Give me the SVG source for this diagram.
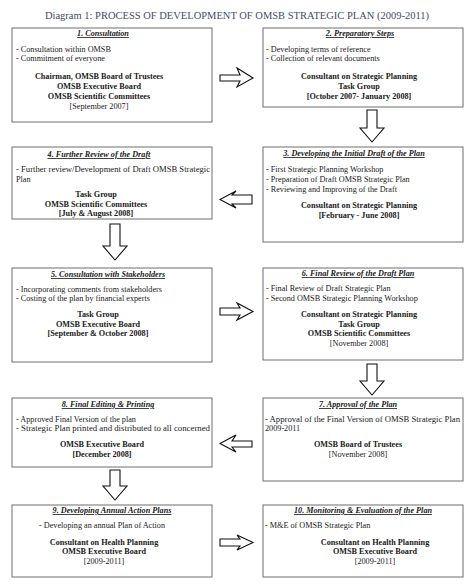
<svg xmlns="http://www.w3.org/2000/svg" width="474" height="587" viewBox="0 0 474 587">
<style>
text{font-family:"Liberation Serif","Times New Roman",serif;font-size:8.2px;fill:#1a1a1a}
.title{font-size:10.5px;fill:#3f4d6c}
.h{font-weight:bold;font-style:italic;text-decoration:underline;text-anchor:middle}
.b{font-weight:bold;text-anchor:middle}
.c{text-anchor:middle}
.box{fill:#fff;stroke:#6e6e6e;stroke-width:1}
.arr{fill:#fff;stroke:#111;stroke-width:1.1;stroke-linejoin:miter}
</style>
<rect width="474" height="587" fill="#fff"/>
<text class="title" x="237" y="19" text-anchor="middle">Diagram 1: PROCESS OF DEVELOPMENT OF OMSB STRATEGIC PLAN (2009-2011)</text>

<g id="connectors">
<polygon class="arr" points="220,75 240,75 237,68 253,78 237,87 240,81 220,81"/>
<polygon class="arr" points="367,110 377,110 377,128 384,128 372,142 360,128 367,128"/>
<polygon class="arr" points="252,195 232,195 236,191 220,199.5 236,208 232,204 252,204"/>
<polygon class="arr" points="110,224 120,224 120,246 127,246 115,260 103,246 110,246"/>
<polygon class="arr" points="220,308 240,308 237,303 253,311.5 237,320 240,315 220,315"/>
<polygon class="arr" points="367,364 377,364 377,381 384,381 372,395 360,381 367,381"/>
<polygon class="arr" points="252,441 232,441 236,435 220,443.5 236,452 232,447 252,447"/>
<polygon class="arr" points="110,470 120,470 120,486 127,486 115,500 103,486 110,486"/>
<polygon class="arr" points="220,539 240,539 237,535 253,542.5 237,550 240,546 220,546"/>
</g>

<g id="node1">
<rect class="box" x="12" y="28" width="200" height="94"/>
<text class="h" x="103" y="36">1. Consultation</text>
<text x="16" y="51.5">- Consultation within OMSB</text>
<text x="16" y="61">- Commitment of everyone</text>
<text class="b" x="99" y="79">Chairman, OMSB Board of Trustees</text>
<text class="b" x="99" y="89">OMSB Executive Board</text>
<text class="b" x="99" y="99">OMSB Scientific Committees</text>
<text class="c" x="99" y="109">[September 2007]</text>
</g>

<g id="node2">
<rect class="box" x="263" y="28" width="200" height="79"/>
<text class="h" x="360" y="36">2. Preparatory Steps</text>
<text x="266" y="51.5">- Developing terms of reference</text>
<text x="266" y="61">- Collection of relevant documents</text>
<text class="b" x="359" y="79">Consultant on Strategic Planning</text>
<text class="b" x="359" y="89">Task Group</text>
<text class="b" x="359" y="99">[October 2007- January 2008]</text>
</g>

<g id="node3">
<rect class="box" x="263" y="147" width="200" height="95"/>
<text class="h" x="354" y="156">3. Developing the Initial Draft of the Plan</text>
<text x="266" y="172">- First Strategic Planning Workshop</text>
<text x="266" y="182">- Preparation of Draft OMSB Strategic Plan</text>
<text x="266" y="192">- Reviewing and Improving of the Draft</text>
<text class="b" x="359" y="208">Consultant on Strategic Planning</text>
<text class="b" x="359" y="218">[February - June 2008]</text>
</g>

<g id="node4">
<rect class="box" x="12" y="147" width="200" height="72"/>
<text class="h" x="99" y="157">4. Further Review of the Draft</text>
<text x="16" y="172" textLength="194" lengthAdjust="spacingAndGlyphs">- Further review/Development of Draft OMSB Strategic</text>
<text x="16" y="182">Plan</text>
<text class="b" x="96" y="197">Task Group</text>
<text class="b" x="96" y="207">OMSB Scientific Committees</text>
<text class="b" x="96" y="216">[July &amp; August 2008]</text>
</g>

<g id="node5">
<rect class="box" x="12" y="268" width="200" height="94"/>
<text class="h" x="108" y="277">5. Consultation with Stakeholders</text>
<text x="16" y="292">- Incorporating comments from stakeholders</text>
<text x="16" y="301">- Costing of the plan by financial experts</text>
<text class="b" x="98" y="317">Task Group</text>
<text class="b" x="98" y="327">OMSB Executive Board</text>
<text class="b" x="98" y="336">[September &amp; October 2008]</text>
</g>

<g id="node6">
<rect class="box" x="263" y="268" width="200" height="92"/>
<text class="h" x="358" y="276">6. Final Review of the Draft Plan</text>
<text x="266" y="291">- Final Review of Draft Strategic Plan</text>
<text x="266" y="301">- Second OMSB Strategic Planning Workshop</text>
<text class="b" x="359" y="317">Consultant on Strategic Planning</text>
<text class="b" x="359" y="327">Task Group</text>
<text class="b" x="359" y="336">OMSB Scientific Committees</text>
<text class="c" x="359" y="346">[November 2008]</text>
</g>

<g id="node7">
<rect class="box" x="263" y="398" width="200" height="83"/>
<text class="h" x="358" y="407">7. Approval of the Plan</text>
<text x="265" y="422" textLength="195" lengthAdjust="spacingAndGlyphs">- Approval of the Final Version of OMSB Strategic Plan</text>
<text x="265" y="431">2009-2011</text>
<text class="b" x="358" y="447">OMSB Board of Trustees</text>
<text class="c" x="358" y="457">[November 2008]</text>
</g>

<g id="node8">
<rect class="box" x="12" y="398" width="200" height="69"/>
<text class="h" x="108" y="407">8. Final Editing &amp; Printing</text>
<text x="16" y="422">- Approved Final Version of the plan</text>
<text x="16" y="431" textLength="194" lengthAdjust="spacingAndGlyphs">- Strategic Plan printed and distributed to all concerned</text>
<text class="b" x="102" y="447">OMSB Executive Board</text>
<text class="b" x="102" y="457">[December 2008]</text>
</g>

<g id="node9">
<rect class="box" x="12" y="505" width="200" height="72"/>
<text class="h" x="112" y="513">9. Developing Annual Action Plans</text>
<text class="c" x="102" y="528">- Developing an annual Plan of Action</text>
<text class="b" x="104" y="545">Consultant on Health Planning</text>
<text class="b" x="104" y="554">OMSB Executive Board</text>
<text class="c" x="104" y="564">[2009-2011]</text>
</g>

<g id="node10">
<rect class="box" x="263" y="505" width="200" height="72"/>
<text class="h" x="363" y="513">10. Monitoring &amp; Evaluation of the Plan</text>
<text x="265" y="528">- M&amp;E of OMSB Strategic Plan</text>
<text class="b" x="375" y="545">Consultant on Health Planning</text>
<text class="b" x="375" y="554">OMSB Executive Board</text>
<text class="c" x="375" y="564">[2009-2011]</text>
</g>
</svg>
